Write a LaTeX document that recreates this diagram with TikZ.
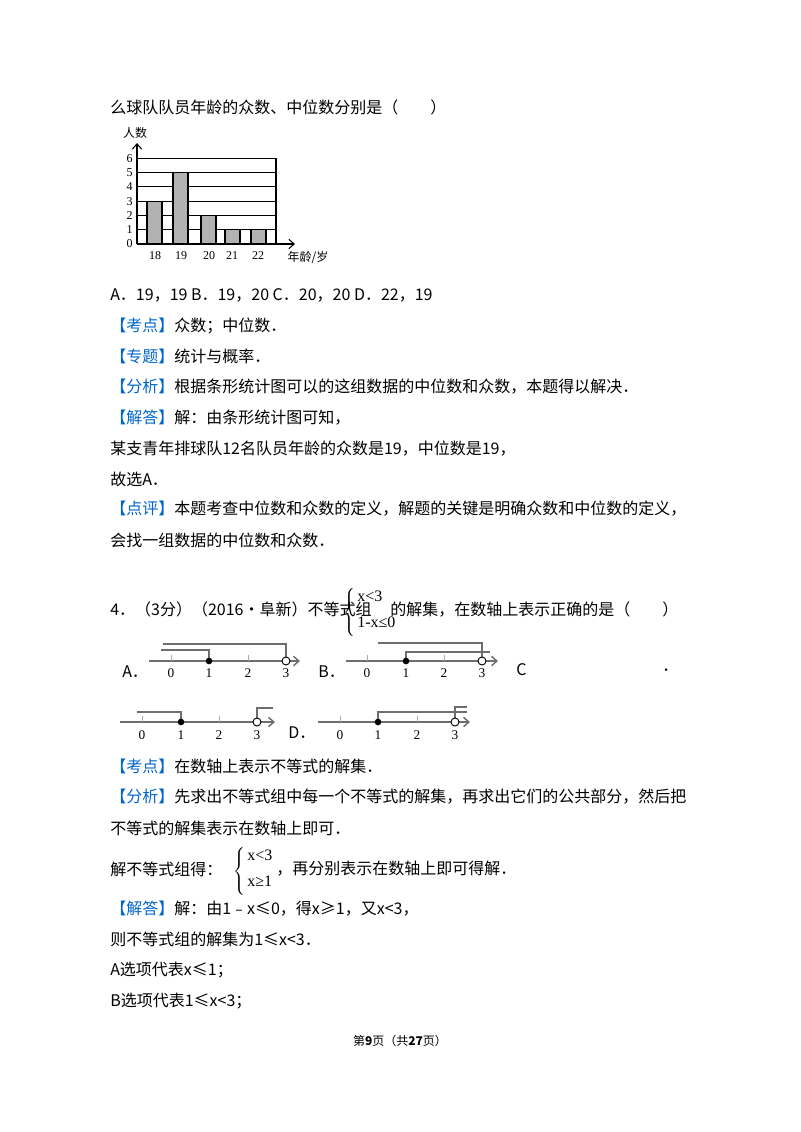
\documentclass[tikz,border=0pt]{standalone}
\usepackage{fontspec}
\setmainfont{Noto Sans CJK SC}
\newfontfamily\ser{Liberation Serif}
\usetikzlibrary{arrows.meta}
\definecolor{kblue}{RGB}{0,102,204}
\definecolor{axg}{RGB}{110,110,110}
\tikzset{
 t/.style={anchor=west,inner sep=0pt,font=\fontsize{12}{14}\selectfont},
 sm/.style={inner sep=0pt,font=\ser\fontsize{9}{10}\selectfont},
 nl/.style={draw=axg,line width=1.1pt,-{Straight Barb[length=4pt,width=7pt]}},
 br/.style={draw=axg,line width=1.1pt},
 tk/.style={draw=axg!60,line width=0.6pt},
 fd/.style={fill=black,circle,inner sep=0pt,minimum size=5pt},
 od/.style={draw=black,fill=white,circle,inner sep=0pt,minimum size=6pt,line width=0.7pt},
 bar/.style={fill=gray!60,draw=black,line width=0.8pt},
 brs/.style={inner sep=0pt,font=\fontsize{12}{14}\selectfont},
 iq/.style={anchor=west,inner sep=0pt,font=\ser\fontsize{12}{13}\selectfont},
}
\newcommand{\kb}[1]{\textcolor{kblue}{【#1】}}
\newcommand{\tallbrace}{$\left\{\rule[-15pt]{0pt}{32pt}\right.$}
\begin{document}
\begin{tikzpicture}[x=0.75pt,y=-0.75pt]
\useasboundingbox[fill=white] (0,0) rectangle (800,1132);
\node[t] (l1) at (110,107) {么球队队员年龄的众数、中位数分别是（\hspace{2em}）};
% chart
\foreach \k in {1,...,6}{\draw[line width=0.8pt] (137,{244-14.3*\k}) -- (276,{244-14.3*\k});}
\draw[line width=0.8pt] (276,158.2) -- (276,244);
\foreach \k in {0,...,6}{\node[sm,anchor=east] (yl\k) at (133,{244-14.3*\k}) {\k};}
\draw[bar] (147,244) rectangle (162,{244-3*14.3});
\draw[bar] (173,244) rectangle (188,{244-5*14.3});
\draw[bar] (201,244) rectangle (216,{244-2*14.3});
\draw[bar] (225,244) rectangle (240,{244-1*14.3});
\draw[bar] (251,244) rectangle (266,{244-1*14.3});
\draw[line width=0.8pt,-{Straight Barb[length=4pt,width=7pt]}] (137,244) -- (137,143);
\draw[line width=0.8pt,-{Straight Barb[length=4pt,width=7pt]}] (137,244) -- (295,244);
\node[sm] (c18) at (155,256) {18};
\node[sm] (c19) at (181,256) {19};
\node[sm] (c20) at (209,256) {20};
\node[sm] (c21) at (232,256) {21};
\node[sm] (c22) at (258,256) {22};
\node[inner sep=0pt,font=\fontsize{9}{10}\selectfont] (xl) at (308,257) {年龄/岁};
\node[inner sep=0pt,font=\fontsize{9}{10}\selectfont] (yln) at (135,133) {人数};
% text
\node[t] (l2) at (110,295) {A．19，19 B．19，20 C．20，20 D．22，19};
\node[t] (l3) at (110,326) {\kb{考点}众数；中位数．};
\node[t] (l4) at (110,356) {\kb{专题}统计与概率．};
\node[t] (l5) at (110,387) {\kb{分析}根据条形统计图可以的这组数据的中位数和众数，本题得以解决．};
\node[t] (l6) at (110,418) {\kb{解答}解：由条形统计图可知，};
\node[t] (l7) at (110,449) {某支青年排球队12名队员年龄的众数是19，中位数是19，};
\node[t] (l8) at (110,479) {故选A．};
\node[t] (l9) at (110,509) {\kb{点评}本题考查中位数和众数的定义，解题的关键是明确众数和中位数的定义，};
\node[t] (l10) at (110,540) {会找一组数据的中位数和众数．};
\node[t] (q4) at (110,609) {4．（3分）（2016•阜新）不等式组};
\node[brs] (brc) at (350,612) {\tallbrace};
\node[iq] (s1) at (357,596) {x<3};
\node[iq] (s2) at (357,622) {1-x≤0};
\node[t] (q4b) at (390,609) {的解集，在数轴上表示正确的是（\hspace{2em}）};
% number lines row 1
\node[t] (la) at (122,672) {A．};
\draw[nl] (149,661) -- (300,661);
\foreach \x/\v in {171/0,209/1,248/2,286/3}{\draw[tk] (\x,655) -- (\x,661); \node[sm,font=\ser\fontsize{10}{11}\selectfont] at (\x,673) {\v};}
\draw[br] (161,650) -- (209,650) -- (209,661);
\draw[br] (163,644) -- (286,644) -- (286,661);
\node[fd] (a1) at (209,661) {}; \node[od] (a3) at (286,661) {};
\node[t] (lb) at (318,672) {B．};
\draw[nl] (346,661) -- (498,661);
\foreach \x/\v in {367/0,406/1,444/2,482/3}{\draw[tk] (\x,655) -- (\x,661); \node[sm,font=\ser\fontsize{10}{11}\selectfont] at (\x,673) {\v};}
\draw[br] (378,643) -- (482,643) -- (482,661);
\draw[br] (406,661) -- (406,652) -- (490,652);
\node[fd] (b1) at (406,661) {}; \node[od] (b3) at (482,661) {};
\node[t] (lc) at (516,670) {C};
\node[t] (ld) at (662,670) {．};
% row 2
\draw[nl] (120,722) -- (275,722);
\foreach \x/\v in {142/0,181/1,219/2,257/3}{\draw[tk] (\x,716) -- (\x,722); \node[sm,font=\ser\fontsize{10}{11}\selectfont] at (\x,735) {\v};}
\draw[br] (137,712) -- (181,712) -- (181,722);
\draw[br] (257,722) -- (257,708) -- (273,708);
\node[fd] (c1) at (181,722) {}; \node[od] (c3) at (257,722) {};
\node[t] (ldd) at (288,733) {D．};
\draw[nl] (318,722) -- (470,722);
\foreach \x/\v in {340/0,378/1,417/2,455/3}{\draw[tk] (\x,716) -- (\x,722); \node[sm,font=\ser\fontsize{10}{11}\selectfont] at (\x,735) {\v};}
\draw[br] (378,722) -- (378,712) -- (467,712);
\draw[br] (455,722) -- (455,707) -- (467,707);
\node[fd] (d1) at (378,722) {}; \node[od] (d3) at (455,722) {};
% analysis
\node[t] (m1) at (110,766) {\kb{考点}在数轴上表示不等式的解集．};
\node[t] (m2) at (110,797) {\kb{分析}先求出不等式组中每一个不等式的解集，再求出它们的公共部分，然后把};
\node[t] (m3) at (110,828) {不等式的解集表示在数轴上即可．};
\node[t] (m4) at (110,869) {解不等式组得：};
\node[brs] (brc2) at (240,871) {\tallbrace};
\node[iq] (u1) at (247,855) {x<3};
\node[iq] (u2) at (247,881) {x≥1};
\node[t] (m5) at (276,869) {，再分别表示在数轴上即可得解．};
\node[t] (m6) at (110,909) {\kb{解答}解：由1﹣x≤0，得x≥1，又x<3，};
\node[t] (m7) at (110,939) {则不等式组的解集为1≤x<3．};
\node[t] (m8) at (110,970) {A选项代表x≤1；};
\node[t] (m9) at (110,1001) {B选项代表1≤x<3；};
\node[inner sep=0pt,font=\fontsize{9}{10}\selectfont] (ft) at (400,1041) {第\textbf{9}页（共\textbf{27}页）};
\end{tikzpicture}
\end{document}
